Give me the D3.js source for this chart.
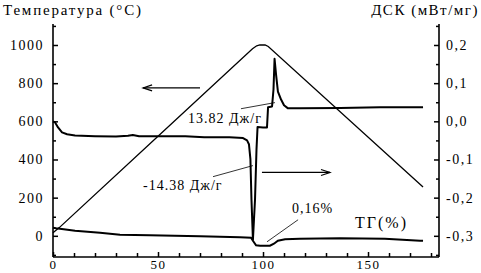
<!DOCTYPE html>
<html>
<head>
<meta charset="utf-8">
<script src="https://cdn.jsdelivr.net/npm/d3@7"></script>
<style>
  html, body { margin: 0; padding: 0; background: #fff; }
</style>
</head>
<body>
<div id="chart"></div>
<script>
// time, min
const tempTime = [0, 3, 50, 95, 97, 98.5, 101, 102.5, 176.2];
const tempVals = [16, 43, 522, 980, 996, 1000, 1000, 992, 256];

const dscTime = [0, 1, 2.4, 4.3, 6.7, 10.5, 20, 30, 35.7, 38, 41, 51, 63, 72, 84, 90.5, 92.4, 93.3, 94, 94.5,
                 95.2, 96.2, 96.9, 97.4, 100, 101.9, 102.4, 104.3, 105, 105.5, 106.2, 107.1, 108.6, 110, 111.9,
                 117.6, 136.7, 155.7, 176.2];
const dscVals = [0.000, -0.003, -0.016, -0.029, -0.034, -0.037, -0.039, -0.040, -0.038, -0.036, -0.039, -0.039,
                 -0.039, -0.042, -0.042, -0.044, -0.050, -0.060, -0.099, -0.204, -0.310, -0.204, -0.073, -0.015,
                 -0.016, -0.016, 0.037, 0.039, 0.084, 0.164, 0.123, 0.078, 0.057, 0.042, 0.034, 0.034, 0.035,
                 0.037, 0.037];

const tgTime = [0, 1.5, 10.5, 22.4, 31.9, 46, 70, 89, 94.3, 95.2, 96.7, 98.6, 103.3, 105.2, 107.1, 110.5, 117.6,
                136.7, 158, 174.8, 176.2];
const tgVals = [100.000, 99.993, 99.960, 99.933, 99.907, 99.900, 99.887, 99.873, 99.867, 99.827, 99.767, 99.760,
                99.760, 99.787, 99.827, 99.847, 99.853, 99.860, 99.853, 99.827, 99.827];

const xTicks = [0, 50, 100, 150];
const tempTicks = [0, 200, 400, 600, 800, 1000];
const dscTicks = [0.2, 0.1, 0.0, -0.1, -0.2, -0.3];
const dscTickLabels = ["0,2", "0,1", "0,0", "-0,1", "-0,2", "-0,3"];

const FONT = "'Liberation Serif', 'DejaVu Serif', 'Times New Roman', Times, serif";

const W = 481, H = 273;
const margin = { top: 24, right: 42, bottom: 16, left: 53 };
const width = W - margin.left - margin.right;
const height = H - margin.top - margin.bottom;

const svg = d3.select("#chart").append("svg")
    .attr("width", W).attr("height", H);

const g = svg.append("g").attr("transform", `translate(${margin.left},${margin.top})`);

const x = d3.scaleLinear().domain([0, 183.8]).range([0, width]);
const yT = d3.scaleLinear().domain([-111, 1110]).range([height, 0]);
const yD = d3.scaleLinear().domain([-0.3555, 0.255]).range([height, 0]);
const yG = d3.scaleLinear().domain([99.61, 102.72]).range([height, 0]);

// axes
const xAxis = g.append("g").attr("transform", `translate(0,${height})`)
    .call(d3.axisBottom(x).tickValues(d3.range(0, 181, 10)).tickSize(-5)
        .tickFormat(d => xTicks.includes(d) ? d : "").tickPadding(5));
const leftAxis = g.append("g")
    .call(d3.axisLeft(yT).tickValues(d3.range(-100, 1101, 100)).tickSize(-5)
        .tickFormat(d => tempTicks.includes(d) ? d : "").tickPadding(9));
const rightAxis = g.append("g").attr("transform", `translate(${width},0)`)
    .call(d3.axisRight(yD).tickValues(d3.range(-7, 6).map(i => i * 0.05)).tickSize(-5)
        .tickFormat(d => {
            const i = dscTicks.findIndex(v => Math.abs(v - d) < 1e-6);
            return i >= 0 ? dscTickLabels[i] : "";
        }).tickPadding(7));

[xAxis, leftAxis, rightAxis].forEach(a => {
    a.attr("font-family", null);
    a.select(".domain").attr("stroke", "#000").attr("stroke-width", 1.6);
    a.selectAll(".tick line").attr("stroke", "#000").attr("stroke-width", 1.5);
    a.selectAll(".tick text").attr("font-size", "14px").attr("letter-spacing", "1.5px")
        .attr("fill", "#000").style("font-family", FONT);
});
xAxis.selectAll(".tick text").attr("font-size", "13px").attr("dy", "0.55em");
// minor ticks shorter
leftAxis.selectAll(".tick").filter(d => !tempTicks.includes(d)).select("line").attr("x2", 3);
rightAxis.selectAll(".tick").filter(d => Math.abs(Math.round(d * 10) - d * 10) > 1e-6).select("line").attr("x2", -3);
xAxis.selectAll(".tick").filter(d => !xTicks.includes(d)).select("line").attr("y2", -4);
// plain domain lines, no end caps
xAxis.select(".domain").attr("d", `M0,0H${width}`);
leftAxis.select(".domain").attr("d", `M0,0V${height}`);
rightAxis.select(".domain").attr("d", `M0,0V${height}`);

// curves
const zip = (a, b) => a.map((v, i) => [v, b[i]]);
g.append("path").datum(zip(tempTime, tempVals))
    .attr("fill", "none").attr("stroke", "#000").attr("stroke-width", 1.3)
    .attr("d", d3.line().x(d => x(d[0])).y(d => yT(d[1])));
g.append("path").datum(zip(dscTime, dscVals))
    .attr("fill", "none").attr("stroke", "#000").attr("stroke-width", 2).attr("stroke-linejoin", "round")
    .attr("d", d3.line().x(d => x(d[0])).y(d => yD(d[1])));
g.append("path").datum(zip(tgTime, tgVals))
    .attr("fill", "none").attr("stroke", "#000").attr("stroke-width", 2)
    .attr("d", d3.line().x(d => x(d[0])).y(d => yG(d[1])));

// arrows
function arrow(x1, y1, x2, y2) {
    g.append("line").attr("x1", x1).attr("y1", y1).attr("x2", x2).attr("y2", y2)
        .attr("stroke", "#000").attr("stroke-width", 1.2);
    const dir = Math.sign(x2 - x1);
    g.append("path")
        .attr("d", `M${x2 - dir * 9},${y2 - 3}L${x2},${y2}L${x2 - dir * 9},${y2 + 3}`)
        .attr("fill", "none").attr("stroke", "#000").attr("stroke-width", 1.2);
}
arrow(x(70), yT(775), x(42.9), yT(775));
arrow(x(99.5), yD(-0.134), x(131.9), yD(-0.134));

// leaders
function leader(x1, y1, x2, y2) {
    g.append("line").attr("x1", x1).attr("y1", y1).attr("x2", x2).attr("y2", y2)
        .attr("stroke", "#000").attr("stroke-width", 0.8);
}
leader(x(89.5), yD(0.033), x(105.7), yD(0.049));
leader(x(76.2), yD(-0.145), x(95.2), yD(-0.116));
leader(x(116.7), yG(100.107), x(101.9), yG(99.813));

// labels
function label(px, py, txt, size, spacing) {
    g.append("text").attr("x", px).attr("y", py).attr("font-size", size)
        .attr("letter-spacing", spacing).style("font-family", FONT).text(txt);
}
label(x(64.3), yD(-0.004), "13.82 Дж/г", "14px", "1px");
label(x(42.9), yD(-0.179), "-14.38 Дж/г", "14px", "1px");
label(x(113.8), yG(100.2), "0,16%", "14px", "1px");
label(x(143.8), yG(100.0), "ТГ(%)", "16px", "2px");

// axis titles
svg.append("text").attr("x", 3).attr("y", 15).attr("font-size", "15px").style("font-family", FONT)
    .attr("letter-spacing", "1.8px").text("Температура (°C)");
svg.append("text").attr("x", 479).attr("y", 15).attr("font-size", "15px").style("font-family", FONT)
    .attr("text-anchor", "end").attr("letter-spacing", "1.5px").text("ДСК (мВт/мг)");
</script>
</body>
</html>
